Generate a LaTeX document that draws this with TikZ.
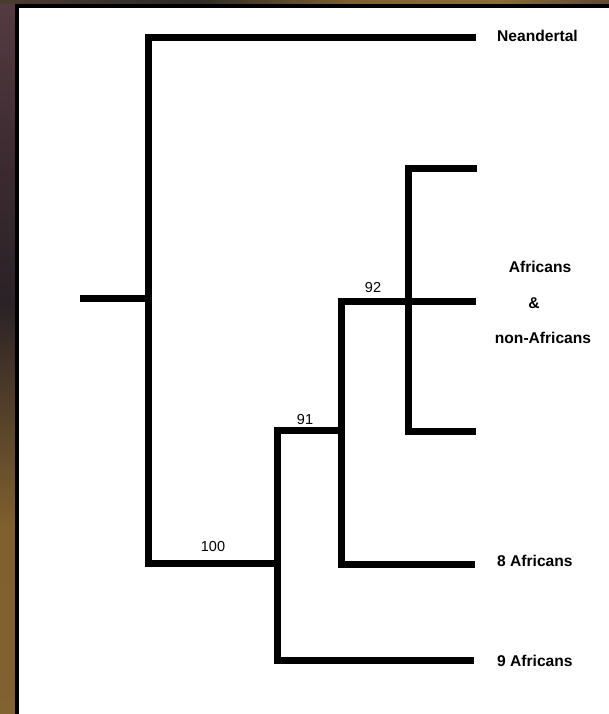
\documentclass[tikz,border=0pt]{standalone}
\usepackage{fontspec}
\setmainfont{Liberation Sans}
\definecolor{bgA}{RGB}{92,68,86}
\definecolor{bgB}{RGB}{110,76,84}
\definecolor{bgC}{RGB}{62,44,50}
\definecolor{bgD}{RGB}{42,34,38}
\definecolor{bgE}{RGB}{128,96,46}
\definecolor{bgF}{RGB}{130,98,50}
\definecolor{bgG}{RGB}{92,68,44}
\definecolor{bgH}{RGB}{50,40,34}
\definecolor{bgI}{RGB}{46,42,38}
\definecolor{bgJ}{RGB}{140,108,54}
\definecolor{bgK}{RGB}{76,60,50}
\definecolor{bgL}{RGB}{30,26,40}
\pgfdeclareverticalshading{leftbg}{100bp}{color(0bp)=(bgH); color(8bp)=(bgG); color(22bp)=(bgF); color(38bp)=(bgE); color(53.8bp)=(bgD); color(65bp)=(bgC); color(86bp)=(bgB); color(100bp)=(bgA)}
\pgfdeclarehorizontalshading{topbg}{100bp}{color(0bp)=(bgA); color(24.6bp)=(bgK); color(41bp)=(bgI); color(54.2bp)=(bgE); color(65.7bp)=(bgJ); color(78.8bp)=(bgK); color(100bp)=(bgL)}
\tikzset{
  branch/.style={line width=7pt, line cap=butt, line join=miter},
  leaf/.style={font=\bfseries\fontsize{15.6}{18}\selectfont, inner sep=0pt, anchor=west},
  support/.style={font=\fontsize{14.5}{16}\selectfont, inner sep=0pt},
}
\begin{document}
\begin{tikzpicture}[x=1pt,y=-1pt]
\useasboundingbox (0,0) rectangle (609,714);
% background and frame
\fill[bgD] (0,0) rectangle (609,714);
\shade[shading=leftbg] (0,0) rectangle (15,714);
\shade[shading=topbg] (0,0) rectangle (609,4);
\fill[black] (15,4) rectangle (609,714);
\fill[white] (19,8) rectangle (609,714);
% tree coordinates
\coordinate (root) at (80,298);
\coordinate (r0) at (148,298);
\coordinate (nt) at (148,38);
\coordinate (nb) at (148,563);
\coordinate (neand) at (476,38);
\coordinate (a100) at (277,563);
\coordinate (t100) at (277,430);
\coordinate (b100) at (277,660);
\coordinate (afr9) at (474,660);
\coordinate (t91) at (341.5,430);
\coordinate (u91) at (341.5,301);
\coordinate (b91) at (341.5,564);
\coordinate (afr8) at (475,564);
\coordinate (mid) at (476,301);
\coordinate (t92) at (408,169);
\coordinate (b92) at (408,431);
\coordinate (top) at (477,169);
\coordinate (bot) at (476,431);
% branches
\draw[branch] (root) -- (r0);
\draw[branch] (neand) -- (nt) -- (nb) -- (a100);
\draw[branch] (t91) -- (t100) -- (b100) -- (afr9);
\draw[branch] (mid) -- (u91) -- (b91) -- (afr8);
\draw[branch] (top) -- (t92) -- (b92) -- (bot);
% labels
\node[leaf] (lneand) at (497,36) {Neandertal};
\node[leaf, anchor=center] (lafr) at (540,267) {Africans};
\node[leaf, anchor=center] (land) at (534,303) {\&};
\node[leaf, anchor=center] (lnon) at (543,338) {non-Africans};
\node[leaf] (l8) at (497,561) {8 Africans};
\node[leaf] (l9) at (497,661) {9 Africans};
\node[support] (s92) at (373,288) {92};
\node[support] (s91) at (305,420) {91};
\node[support] (s100) at (213,547) {100};
\end{tikzpicture}
\end{document}
